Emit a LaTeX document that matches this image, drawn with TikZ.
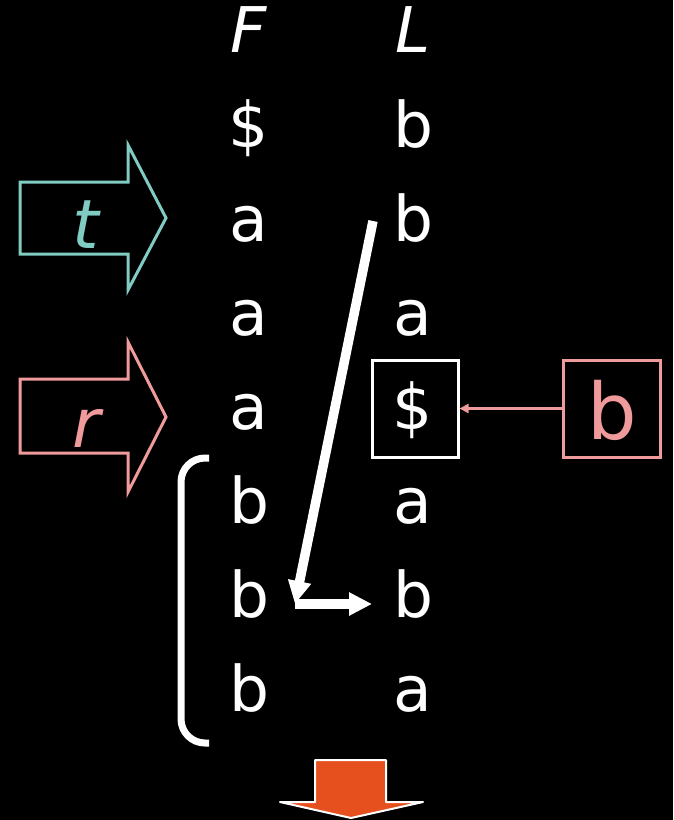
\documentclass[tikz,border=0pt]{standalone}
\usepackage{fontspec}
\setmainfont{DejaVu Sans}
\usetikzlibrary{arrows.meta}
\definecolor{tealmark}{RGB}{128,203,194}
\definecolor{pinkmark}{RGB}{240,155,155}
\definecolor{orangefill}{RGB}{229,80,30}
\tikzset{
  letter/.style={text=white, inner sep=0pt, anchor=base, font=\fontsize{63}{63}\selectfont},
  tagletter/.style={inner sep=0pt, anchor=base, font=\fontsize{68}{68}\selectfont\itshape},
  blockarrow/.style={line width=3pt, line join=miter},
  framebox/.style={draw, line width=3pt, inner sep=0pt, minimum height=97pt},
  pointer/.style={white, line width=9.5pt, -{Triangle[length=23pt,width=22pt]}},
}
\begin{document}
\begin{tikzpicture}[x=1pt,y=-1pt]
  \fill[black] (0,0) rectangle (673,820);
  \useasboundingbox (0,0) rectangle (673,820);

  % column headings
  \node[letter] (F) at (249,52) {\itshape F};
  \node[letter] (L) at (413,52) {\itshape L};

  % first column
  \node[letter] (f1) at (249,147) {\$};
  \node[letter] (f2) at (249,241) {a};
  \node[letter] (f3) at (249,335) {a};
  \node[letter] (f4) at (249,429) {a};
  \node[letter] (f5) at (249,523) {b};
  \node[letter] (f6) at (249,617) {b};
  \node[letter] (f7) at (249,711) {b};

  % last column
  \node[letter] (l1) at (413,147) {b};
  \node[letter] (l2) at (413,241) {b};
  \node[letter] (l3) at (413,335) {a};
  \node[letter] (l4) at (413,429) {\$};
  \node[letter] (l5) at (413,523) {a};
  \node[letter] (l6) at (413,617) {b};
  \node[letter] (l7) at (413,711) {a};

  % box round the end marker and the character that replaces it
  \node[framebox, white, minimum width=86pt] (sbox) at (415,408.5) {};
  \node[framebox, pinkmark, minimum width=97pt] (bbox) at (611.5,408.5) {};
  \node[inner sep=0pt, anchor=base, text=pinkmark, font=\fontsize{78}{78}\selectfont] (bchar) at (612,439) {b};
  \draw[pinkmark, line width=2.5pt, -{Triangle[length=9pt,width=9pt]}] (bbox.west) -- (sbox.east);

  % block arrows marking rows t and r
  \draw[blockarrow, tealmark] (20,182) -- (128,182) -- (128,145) -- (166,218)
    -- (128,290) -- (128,254) -- (20,254) -- cycle;
  \node[tagletter, text=tealmark] (tlab) at (86,248) {t};
  \draw[blockarrow, pinkmark] (20,379) -- (128,379) -- (128,342) -- (166,417)
    -- (128,492) -- (128,453) -- (20,453) -- cycle;
  \node[tagletter, text=pinkmark] (rlab) at (86,447) {r};

  % LF mapping step
  \coordinate (wtop) at (373,221);
  \coordinate (wbend) at (295,604);
  \coordinate (wend) at (372,604);
  \draw[pointer] (wtop) -- (wbend);
  \draw[pointer, line width=10pt] (wbend) -- (wend);

  % bracket over the run of b's
  \draw[white, line width=7pt, rounded corners=24pt]
    (209,458) -- (181,458) -- (181,743) -- (209,743);

  % down arrow
  \draw[white, line width=2pt, fill=orangefill, line join=round]
    (315,760) -- (386,760) -- (386,802) -- (423,802) -- (351,818)
    -- (280,802) -- (315,802) -- cycle;
\end{tikzpicture}
\end{document}
